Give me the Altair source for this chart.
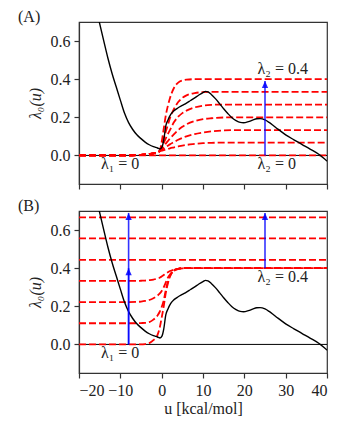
import altair as alt
import pandas as pd

# ---------------- data ----------------
# black curve lambda_0(u)
u_black = [-15.2, -14, -13, -12, -11, -10, -9, -8, -7, -6, -5, -4, -3, -2, -1, -0.4,
           0.1, 0.5, 1.0, 1.5, 2.2, 3, 4, 5, 6, 7, 8, 9, 10, 10.6, 11.2, 12, 13, 14,
           15, 16, 17, 18, 19, 19.8, 21, 22, 23, 23.8, 25, 26, 27, 28, 30, 32, 34,
           36, 38, 40]
lam0 = [0.71, 0.60, 0.51, 0.43, 0.36, 0.29, 0.222, 0.172, 0.136, 0.108, 0.088, 0.07,
        0.056, 0.046, 0.039, 0.034, 0.045, 0.08, 0.155, 0.185, 0.215, 0.235, 0.25,
        0.262, 0.274, 0.288, 0.302, 0.317, 0.33, 0.336, 0.333, 0.32, 0.298, 0.272,
        0.245, 0.22, 0.198, 0.183, 0.173, 0.171, 0.177, 0.185, 0.192, 0.193, 0.186,
        0.173, 0.157, 0.14, 0.108, 0.082, 0.057, 0.032, 0.006, -0.03]

# panel A: red dashed curves, lambda_1 = 0, lambda_2 = 0 ... 0.4
uA = [-20, -8, -5, -3, -2, -1, -0.5, 0, 0.5, 1, 1.5, 2, 3, 4, 5, 6, 8, 10, 12, 15, 20, 40]
A_400 = [0, 0, 0.003, 0.007, 0.011, 0.017, 0.024, 0.07, 0.14, 0.21, 0.26, 0.30, 0.355, 0.382, 0.393, 0.398, 0.4, 0.4, 0.4, 0.4, 0.4, 0.4]
A_333 = [0, 0, 0.003, 0.007, 0.011, 0.017, 0.023, 0.05, 0.09, 0.125, 0.16, 0.195, 0.245, 0.28, 0.302, 0.315, 0.327, 0.332, 0.333, 0.333, 0.333, 0.333]
A_267 = [0, 0, 0.003, 0.007, 0.011, 0.017, 0.023, 0.04, 0.065, 0.09, 0.112, 0.133, 0.175, 0.203, 0.222, 0.235, 0.252, 0.261, 0.265, 0.267, 0.267, 0.267]
A_200 = [0, 0, 0.003, 0.007, 0.011, 0.017, 0.022, 0.033, 0.048, 0.062, 0.075, 0.088, 0.112, 0.133, 0.15, 0.163, 0.18, 0.19, 0.195, 0.199, 0.2, 0.2]
A_133 = [0, 0, 0.003, 0.007, 0.011, 0.017, 0.022, 0.028, 0.036, 0.044, 0.051, 0.058, 0.07, 0.082, 0.092, 0.1, 0.112, 0.12, 0.126, 0.131, 0.133, 0.133]
A_067 = [0, 0, 0.003, 0.007, 0.011, 0.016, 0.021, 0.025, 0.028, 0.031, 0.034, 0.037, 0.042, 0.047, 0.051, 0.055, 0.06, 0.064, 0.066, 0.067, 0.067, 0.067]
A_000 = [0, 0, 0, 0, 0, 0, 0, 0, 0, 0, 0, 0, 0, 0, 0, 0, 0, 0, 0, 0, 0, 0]

# panel B: red dashed curves, lambda_1 = 0 ... 0.667, lambda_2 = 0.4
uB = [-20, -8, -6, -5, -4, -3, -2, -1, -0.5, 0, 0.5, 1, 1.5, 2, 2.5, 3, 4, 5, 6, 40]
B_000 = [0, 0, 0, 0, 0.002, 0.007, 0.022, 0.05, 0.085, 0.14, 0.2, 0.27, 0.32, 0.355, 0.377, 0.389, 0.397, 0.4, 0.4, 0.4]
B_111 = [0.111, 0.111, 0.111, 0.112, 0.113, 0.117, 0.13, 0.152, 0.17, 0.196, 0.232, 0.285, 0.33, 0.36, 0.378, 0.389, 0.397, 0.4, 0.4, 0.4]
B_222 = [0.222, 0.222, 0.223, 0.225, 0.228, 0.233, 0.242, 0.256, 0.266, 0.28, 0.3, 0.325, 0.35, 0.366, 0.378, 0.387, 0.396, 0.4, 0.4, 0.4]
B_333 = [0.333, 0.333, 0.333, 0.334, 0.335, 0.337, 0.34, 0.346, 0.35, 0.356, 0.364, 0.372, 0.379, 0.385, 0.389, 0.392, 0.396, 0.399, 0.4, 0.4]
uB_flat = [-20, 40]
B_444 = [0.444, 0.444]
B_556 = [0.556, 0.556]
B_667 = [0.667, 0.667]

# arrows (u position, start, tip)
arrows_A = {"u": [25], "y0": [0.0], "y1": [0.39]}
arrows_B = {"u": [-8, -8, 25], "y0": [0.0, 0.0, 0.4], "y1": [0.40, 0.69, 0.69]}

# annotations
labels_A = {"u": [-14.7, 23.2, 23.2], "y": [-0.047, 0.452, -0.044],
            "t": ["λ₁ = 0", "λ₂ = 0.4", "λ₂ = 0"]}
labels_B = {"u": [-14.7, 23.2], "y": [-0.047, 0.353],
            "t": ["λ₁ = 0", "λ₂ = 0.4"]}

x_ticks = [-20, -10, 0, 10, 20, 30, 40]
y_ticks = [0.0, 0.2, 0.4, 0.6]

# ---------------- chart ----------------
FONT = "'Liberation Serif', 'Times New Roman', 'DejaVu Serif', serif"
RED = "#ff0000"
BLUE = "#0000ff"
W, H = 248, 162
FS = 16

xs = alt.Scale(domain=[-20, 40], nice=False)
ys = alt.Scale(domain=[-0.15, 0.70], nice=False, zero=False)


def red_df(u, curves):
    rows = []
    for name, vals in curves.items():
        for a, b in zip(u, vals):
            rows.append({"u": a, "lam": b, "c": name})
    return pd.DataFrame(rows)


def panel(tag, red_frames, arrows, labels, show_x_labels):
    x_axis = alt.Axis(values=x_ticks, labels=show_x_labels,
                      title="u [kcal/mol]" if show_x_labels else None,
                      format="d")
    y_axis = alt.Axis(values=y_ticks, format=".1f", title="λ₀(u)",
                      titleFontStyle="italic")

    zero = alt.Chart(pd.DataFrame({"z": [0.0]})).mark_rule(
        color="black", strokeWidth=1).encode(
        y=alt.Y("z:Q", scale=ys, axis=y_axis))

    reds = []
    for df in red_frames:
        reds.append(alt.Chart(df).mark_line(
            color=RED, strokeDash=[7, 3], strokeWidth=1.8,
            interpolate="monotone", clip=True).encode(
            x=alt.X("u:Q", scale=xs, axis=x_axis),
            y=alt.Y("lam:Q", scale=ys, axis=y_axis),
            detail="c:N", order="u:Q"))

    black = alt.Chart(pd.DataFrame({"u": u_black, "lam": lam0})).mark_line(
        color="black", strokeWidth=1.4, interpolate="monotone", clip=True).encode(
        x=alt.X("u:Q", scale=xs, axis=x_axis),
        y=alt.Y("lam:Q", scale=ys, axis=y_axis), order="u:Q")

    adf = pd.DataFrame(arrows)
    shaft = alt.Chart(adf).mark_rule(color=BLUE, opacity=0.8, strokeWidth=1.6).encode(
        x=alt.X("u:Q", scale=xs), y=alt.Y("y0:Q", scale=ys), y2="y1:Q")
    head = alt.Chart(adf).mark_point(
        shape="M0,0L0.45,1L-0.45,1Z", filled=True, size=196,
        color=BLUE, opacity=0.85).encode(
        x=alt.X("u:Q", scale=xs), y=alt.Y("y1:Q", scale=ys))

    txt = alt.Chart(pd.DataFrame(labels)).mark_text(
        align="left", baseline="middle", font=FONT, fontSize=FS,
        color="#222").encode(
        x=alt.X("u:Q", scale=xs), y=alt.Y("y:Q", scale=ys), text="t:N")

    tag_t = alt.Chart(pd.DataFrame({"t": [tag]})).mark_text(
        align="left", baseline="alphabetic", font=FONT, fontSize=FS,
        color="#222").encode(
        x=alt.value(-61), y=alt.value(0), text="t:N")

    return alt.layer(zero, *reds, black, shaft, head, txt, tag_t).properties(
        width=W, height=H)


panelA = panel("(A)", [red_df(uA, {"a400": A_400, "a333": A_333, "a267": A_267,
                                   "a200": A_200, "a133": A_133, "a067": A_067,
                                   "a000": A_000})],
               arrows_A, labels_A, False)
panelB = panel("(B)", [red_df(uB, {"b000": B_000, "b111": B_111, "b222": B_222,
                                   "b333": B_333}),
                       red_df(uB_flat, {"b444": B_444, "b556": B_556, "b667": B_667})],
               arrows_B, labels_B, True)

chart = alt.vconcat(panelA, panelB, spacing=27, bounds="flush").properties(
    padding={"left": 9, "top": 0, "right": 5, "bottom": 5}
).configure(font=FONT).configure_view(
    stroke="#333", strokeWidth=1.2
).configure_axis(
    grid=False, domainColor="#333", domainWidth=1.2, tickColor="#333",
    tickWidth=1.2, tickSize=5, labelFont=FONT, labelFontSize=FS,
    labelColor="#222", labelPadding=4, titleFont=FONT, titleFontSize=FS,
    titleFontWeight="normal", titleColor="#222"
).configure_axisY(titlePadding=7).configure_axisX(titlePadding=2)

chart.save("out.html", embed_options={"renderer": "svg", "actions": False})
